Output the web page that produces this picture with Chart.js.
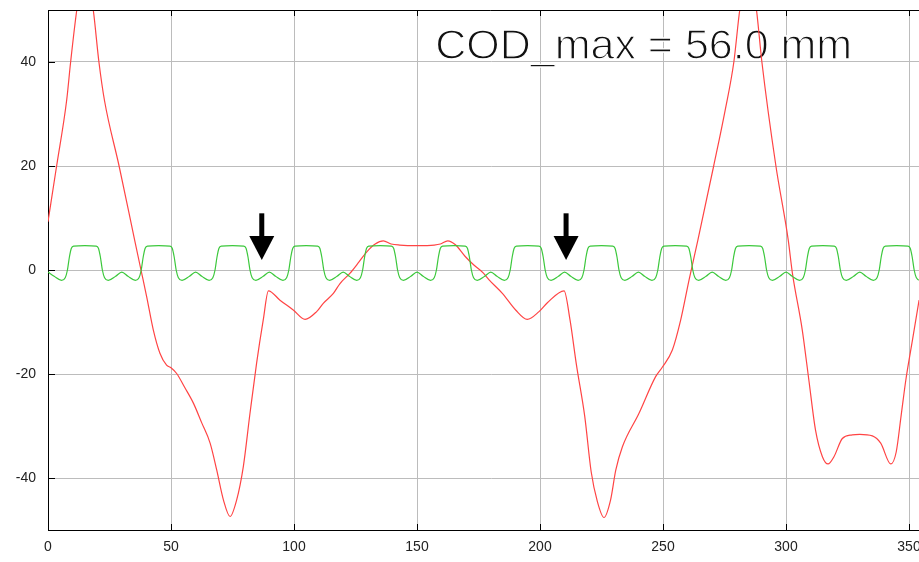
<!DOCTYPE html>
<html><head><meta charset="utf-8">
<script src="https://cdn.jsdelivr.net/npm/chart.js@4/dist/chart.umd.min.js"></script>
<style>
html,body{margin:0;padding:0;background:#fff;overflow:hidden;width:919px;height:562px}
#wrap{position:absolute;left:0;top:0;width:960px;height:562px}
</style>
</head><body><div id="wrap"><canvas id="c"></canvas></div>
<script>
// ---- data ----
const xTicks = [0, 50, 100, 150, 200, 250, 300, 350];
const yTicks = [-40, -20, 0, 20, 40];

const redX = [0, 3.5, 7.6, 9.2, 11.7, 13.3, 15, 16.7, 18.4, 20.7, 23, 28.9, 35.2, 37.8, 40.1, 42.8, 45.5, 48.2, 50, 52.3, 55.6, 59.1, 62.5, 65.9, 68.6, 71.3, 74, 76.7, 79.4, 82.1, 84.8, 87.5, 89.6, 94.3, 99.7, 104.5, 109.2, 111.9, 116, 118.7, 122.8, 126.5, 129.6, 133, 136.3, 139.5, 143, 150, 157, 159.5, 162.5, 165.5, 169.6, 173, 177, 179.3, 184.7, 190.1, 194.8, 199.6, 203, 209.8, 212.2, 214.8, 218.2, 220.8, 223.3, 226, 228.7, 230.8, 233.5, 240.2, 247, 249.7, 253.8, 257.2, 260.6, 264.2, 270.6, 275.3, 278.8, 281.2, 283, 284.7, 286.4, 288, 290.2, 295.9, 300.9, 302.6, 306.6, 309.3, 312, 314.8, 317.1, 319.5, 322.9, 326.9, 330, 335.1, 338.5, 342.6, 344.8, 346.8, 348.7, 351.4, 354.1];
const redY = [9.3, 20, 32.7, 40, 50, 54.5, 56, 54.5, 50, 40, 32.5, 20, 5.8, 0, -5.1, -11.5, -16.0, -18.3, -18.8, -19.9, -22.6, -25.6, -29.4, -33.3, -38.5, -44.2, -47.4, -44.2, -37.8, -27.6, -17.9, -9.6, -4.0, -5.8, -7.7, -9.5, -8.0, -6.4, -4.5, -2.6, -0.6, 1.6, 3.5, 5.0, 5.6, 5.0, 4.8, 4.7, 4.8, 5.0, 5.6, 4.9, 2.6, 1.0, -0.6, -1.9, -4.5, -7.7, -9.5, -8.0, -6.3, -4.0, -9.6, -18.2, -28.2, -38.8, -44.5, -47.6, -44.2, -38.5, -34.0, -27.6, -20.5, -18.7, -15.4, -9.6, -1.9, 5.8, 20, 30.8, 40, 50, 54.5, 56, 54.5, 50, 40, 20, 5.8, -0.6, -11.5, -21.2, -30.8, -35.9, -37.3, -35.9, -32.4, -31.7, -31.6, -31.9, -33.3, -37.3, -35.0, -28.0, -21.2, -13.5, -5.8];

const greenX = [
  0, 2.5, 5.5, 7, 7.9, 8.7, 9.5, 10.5, 15, 19.5, 20.5, 21.3, 22.1, 23, 24.5, 27.5,
  30, 32.5, 35.5, 37, 37.9, 38.7, 39.5, 40.5, 45, 49.5, 50.5, 51.3, 52.1, 53, 54.5, 57.5,
  60, 62.5, 65.5, 67, 67.9, 68.7, 69.5, 70.5, 75, 79.5, 80.5, 81.3, 82.1, 83, 84.5, 87.5,
  90, 92.5, 95.5, 97, 97.9, 98.7, 99.5, 100.5, 105, 109.5, 110.5, 111.3, 112.1, 113, 114.5, 117.5,
  120, 122.5, 125.5, 127, 127.9, 128.7, 129.5, 130.5, 135, 139.5, 140.5, 141.3, 142.1, 143, 144.5, 147.5,
  150, 152.5, 155.5, 157, 157.9, 158.7, 159.5, 160.5, 165, 169.5, 170.5, 171.3, 172.1, 173, 174.5, 177.5,
  180, 182.5, 185.5, 187, 187.9, 188.7, 189.5, 190.5, 195, 199.5, 200.5, 201.3, 202.1, 203, 204.5, 207.5,
  210, 212.5, 215.5, 217, 217.9, 218.7, 219.5, 220.5, 225, 229.5, 230.5, 231.3, 232.1, 233, 234.5, 237.5,
  240, 242.5, 245.5, 247, 247.9, 248.7, 249.5, 250.5, 255, 259.5, 260.5, 261.3, 262.1, 263, 264.5, 267.5,
  270, 272.5, 275.5, 277, 277.9, 278.7, 279.5, 280.5, 285, 289.5, 290.5, 291.3, 292.1, 293, 294.5, 297.5,
  300, 302.5, 305.5, 307, 307.9, 308.7, 309.5, 310.5, 315, 319.5, 320.5, 321.3, 322.1, 323, 324.5, 327.5,
  330, 332.5, 335.5, 337, 337.9, 338.7, 339.5, 340.5, 345, 349.5, 350.5, 351.3, 352.1, 353, 354.5, 357.5,
  360];
const greenY = [
  -0.4, -1.2, -2.0, -1.5, 0.0, 2.5, 4.2, 4.6, 4.7, 4.6, 4.2, 2.5, 0.0, -1.5, -2.0, -1.2,
  -0.4, -1.2, -2.0, -1.5, 0.0, 2.5, 4.2, 4.6, 4.7, 4.6, 4.2, 2.5, 0.0, -1.5, -2.0, -1.2,
  -0.4, -1.2, -2.0, -1.5, 0.0, 2.5, 4.2, 4.6, 4.7, 4.6, 4.2, 2.5, 0.0, -1.5, -2.0, -1.2,
  -0.4, -1.2, -2.0, -1.5, 0.0, 2.5, 4.2, 4.6, 4.7, 4.6, 4.2, 2.5, 0.0, -1.5, -2.0, -1.2,
  -0.4, -1.2, -2.0, -1.5, 0.0, 2.5, 4.2, 4.6, 4.7, 4.6, 4.2, 2.5, 0.0, -1.5, -2.0, -1.2,
  -0.4, -1.2, -2.0, -1.5, 0.0, 2.5, 4.2, 4.6, 4.7, 4.6, 4.2, 2.5, 0.0, -1.5, -2.0, -1.2,
  -0.4, -1.2, -2.0, -1.5, 0.0, 2.5, 4.2, 4.6, 4.7, 4.6, 4.2, 2.5, 0.0, -1.5, -2.0, -1.2,
  -0.4, -1.2, -2.0, -1.5, 0.0, 2.5, 4.2, 4.6, 4.7, 4.6, 4.2, 2.5, 0.0, -1.5, -2.0, -1.2,
  -0.4, -1.2, -2.0, -1.5, 0.0, 2.5, 4.2, 4.6, 4.7, 4.6, 4.2, 2.5, 0.0, -1.5, -2.0, -1.2,
  -0.4, -1.2, -2.0, -1.5, 0.0, 2.5, 4.2, 4.6, 4.7, 4.6, 4.2, 2.5, 0.0, -1.5, -2.0, -1.2,
  -0.4, -1.2, -2.0, -1.5, 0.0, 2.5, 4.2, 4.6, 4.7, 4.6, 4.2, 2.5, 0.0, -1.5, -2.0, -1.2,
  -0.4, -1.2, -2.0, -1.5, 0.0, 2.5, 4.2, 4.6, 4.7, 4.6, 4.2, 2.5, 0.0, -1.5, -2.0, -1.2,
  -0.4];

const annotationText = 'COD_max = 56.0 mm';
const annotationAt = [157.4, 40.6];   // data coords of text start / baseline
const arrowX = [86.9, 210.6];          // data x of the arrows
const arrowTipY = 1.9;
const arrowTopY = 10.9;

// ---- chart ----
const FONT = '"Liberation Sans", Arial, Helvetica, sans-serif';

const deco = {
  id: 'deco',
  beforeDatasetsDraw(chart) {
    const {ctx, scales: {x, y}} = chart;
    const tx = x.getPixelForValue(annotationAt[0]);
    const ty = y.getPixelForValue(annotationAt[1]);
    ctx.save();
    ctx.font = '43px ' + FONT;
    ctx.textAlign = 'left';
    ctx.textBaseline = 'alphabetic';
    ctx.fillStyle = '#111';
    ctx.fillText(annotationText, tx, ty);
    // thin the glyph strokes to resemble a light typeface
    ctx.strokeStyle = '#fff';
    ctx.lineWidth = 1.3;
    ctx.lineJoin = 'round';
    ctx.strokeText(annotationText, tx, ty);
    ctx.restore();
  },
  afterDatasetsDraw(chart) {
    const {ctx, chartArea: a, scales: {x, y}} = chart;
    ctx.save();
    ctx.fillStyle = '#000';
    const headH = 24, headW = 25, shaftW = 5;
    for (const ax of arrowX) {
      const px = x.getPixelForValue(ax);
      const tip = y.getPixelForValue(arrowTipY);
      const top = y.getPixelForValue(arrowTopY);
      ctx.fillRect(px - shaftW / 2, top, shaftW, tip - headH - top + 1);
      ctx.beginPath();
      ctx.moveTo(px - headW / 2, tip - headH);
      ctx.lineTo(px + headW / 2, tip - headH);
      ctx.lineTo(px, tip);
      ctx.closePath();
      ctx.fill();
    }
    ctx.strokeStyle = '#000';
    ctx.lineWidth = 1;
    ctx.beginPath();
    const t = Math.round(a.top) + 0.5;
    ctx.moveTo(a.left, t); ctx.lineTo(a.right, t);
    for (const v of xTicks) {
      const px = Math.round(x.getPixelForValue(v)) + 0.5;
      ctx.moveTo(px, a.top); ctx.lineTo(px, a.top + 6);
      ctx.moveTo(px, a.bottom); ctx.lineTo(px, a.bottom - 6);
    }
    for (const v of yTicks) {
      const py = Math.round(y.getPixelForValue(v)) + 0.5;
      ctx.moveTo(a.left, py); ctx.lineTo(a.left + 7, py);
    }
    ctx.stroke();
    ctx.restore();
  }
};

new Chart(document.getElementById('c'), {
  type: 'line',
  data: {
    datasets: [
      {
        data: greenX.map((v, i) => ({x: v, y: greenY[i]})),
        borderColor: '#3cc83c', borderWidth: 1.2, pointRadius: 0,
        cubicInterpolationMode: 'monotone', fill: false
      },
      {
        data: redX.map((v, i) => ({x: v, y: redY[i]})),
        borderColor: '#ff4444', borderWidth: 1.2, pointRadius: 0,
        cubicInterpolationMode: 'monotone', fill: false
      }
    ]
  },
  options: {
    responsive: true,
    maintainAspectRatio: false,
    animation: false,
    layout: {padding: {top: 10, right: 26.4, bottom: 0, left: 0}},
    plugins: {legend: {display: false}, tooltip: {enabled: false}},
    scales: {
      x: {
        type: 'linear', min: 0, max: 360,
        afterBuildTicks: s => { s.ticks = xTicks.map(v => ({value: v})); },
        afterFit: s => { s.height = 32; s.paddingLeft = 0; s.paddingRight = 0; },
        grid: {color: '#bcbcbc', lineWidth: 1, drawTicks: false},
        border: {display: true, color: '#000', width: 1},
        ticks: {padding: 9, color: '#222', maxRotation: 0, autoSkip: false,
                font: {family: FONT, size: 14}, callback: v => String(v)}
      },
      y: {
        type: 'linear', min: -50, max: 50,
        afterBuildTicks: s => { s.ticks = yTicks.map(v => ({value: v})); },
        afterFit: s => { s.width = 48; s.paddingTop = 0; s.paddingBottom = 0; },
        grid: {color: '#bcbcbc', lineWidth: 1, drawTicks: false},
        border: {display: true, color: '#000', width: 1},
        ticks: {padding: 12, color: '#222', font: {family: FONT, size: 14}, callback: v => String(v)}
      }
    }
  },
  plugins: [deco]
});
</script>
</body></html>
